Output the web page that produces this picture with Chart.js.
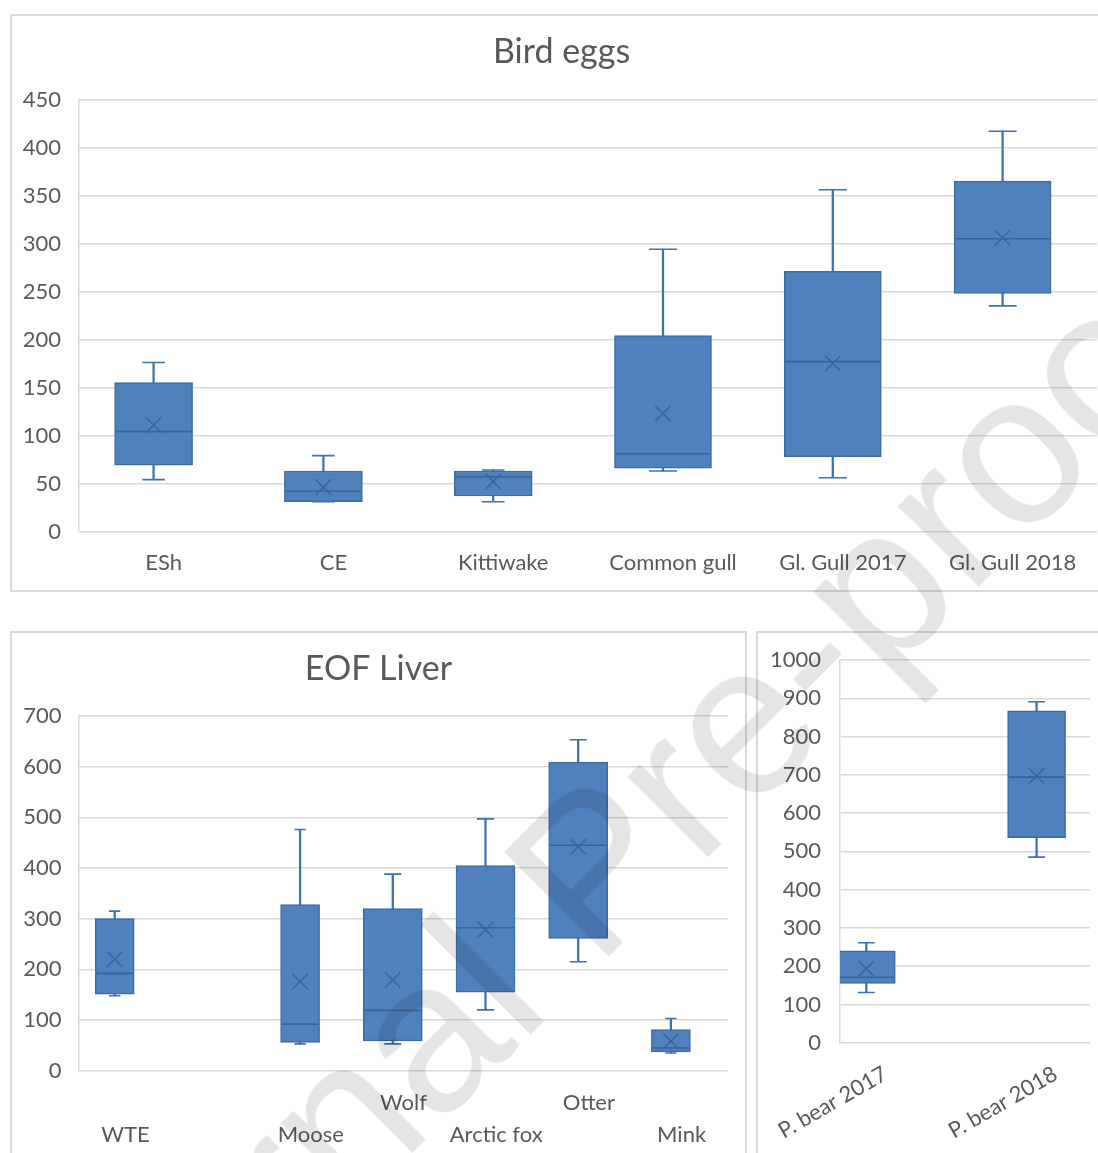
<!DOCTYPE html>
<html>
<head>
<meta charset="utf-8">
<script src="https://cdn.jsdelivr.net/npm/chart.js@4.4.1/dist/chart.umd.min.js"></script>
<style>
  html, body { margin: 0; padding: 0; background: #fff; width: 1098px; height: 1153px; overflow: hidden; }
  .frame { position: absolute; border: 2px solid #d9d9d9; box-sizing: border-box; }
  canvas { position: absolute; }
  #wm { position: absolute; left: 590px; top: 870px; transform: translate(-50%, -50%) rotate(-45deg);
        font-family: "Liberation Sans", Arial, sans-serif; font-weight: normal; font-size: 215px; line-height: 1;
        color: rgba(0,0,0,0.1); white-space: nowrap; pointer-events: none; z-index: 10; }
</style>
</head>
<body>
<div class="frame" style="left:10px;top:14px;width:1120px;height:578px"></div>
<div class="frame" style="left:10px;top:631px;width:737px;height:600px"></div>
<div class="frame" style="left:756px;top:631px;width:400px;height:600px"></div>
<canvas id="c1" width="1101" height="576" style="left:11px;top:15px"></canvas>
<canvas id="c2" width="735" height="521" style="left:11px;top:632px"></canvas>
<canvas id="c3" width="355" height="521" style="left:757px;top:632px"></canvas>
<div id="wm">Journal Pre-proof</div>
<script>
// ---------- Data: Bird eggs ----------
const birdCategories = ['ESh', 'CE', 'Kittiwake', 'Common gull', 'Gl. Gull 2017', 'Gl. Gull 2018'];
const birdMin    = [54, 31, 31, 63, 56, 235];
const birdQ1     = [69, 31, 37, 66, 78, 248];
const birdMedian = [104, 42, 57, 81, 177, 305];
const birdMean   = [111, 46, 52, 123, 175, 306];
const birdQ3     = [155, 63, 63, 204, 271, 365];
const birdMax    = [176, 79, 64, 294, 356, 417];

// ---------- Data: EOF Liver ----------
const liverCategories = ['WTE', '', 'Moose', 'Wolf', 'Arctic fox', 'Otter', 'Mink'];
const liverMin    = [148, null, 53, 53, 120, 215, 35];
const liverQ1     = [151, null, 56, 59, 155, 261, 37];
const liverMedian = [192, null, 92, 119, 282, 445, 45];
const liverMean   = [220, null, 176, 179, 278, 442, 58];
const liverQ3     = [300, null, 328, 320, 405, 609, 81];
const liverMax    = [315, null, 476, 388, 497, 653, 103];

// ---------- Data: Polar bear ----------
const bearCategories = ['P. bear 2017', 'P. bear 2018'];
const bearMin    = [131, 485];
const bearQ1     = [155, 536];
const bearMedian = [171, 694];
const bearMean   = [193, 697];
const bearQ3     = [240, 867];
const bearMax    = [261, 891];

// ---------- Styles ----------
const birdBoxWidth  = [78, 78, 78, 97, 97, 97];
const liverBoxWidth = [39, 0, 39, 59, 59, 59, 39];
const bearBoxWidth  = [58, 58];

const FILL = '#4f81bd';
const EDGE = '#3d6ba6';
const WHISK = '#3f70b0';
const MID = '#3a6497';
const TXT = '#595959';
const GRID = '#d9d9d9';
const FONT = 'Lato';

function buildChart(id, o) {
  const idxs = o.cats.map((_, i) => i).filter(i => o.q1[i] !== null && o.q1[i] !== undefined);
  const widths = [...new Set(idxs.map(i => o.boxW[i]))];
  const datasets = [];
  widths.forEach(w => {
    datasets.push({
      type: 'bar', label: 'box',
      data: idxs.filter(i => o.boxW[i] === w).map(i => ({ x: i, y: [o.q1[i], o.q3[i]] })),
      barThickness: w, maxBarThickness: w, grouped: false,
      backgroundColor: FILL, borderColor: EDGE, borderWidth: 1.5, borderSkipped: false, order: 3
    });
  });
  datasets.push({
    type: 'bar', label: 'whisker',
    data: idxs.map(i => ({ x: i, y: [o.min[i], o.max[i]] })),
    barThickness: 1.6, maxBarThickness: 1.6, grouped: false,
    backgroundColor: WHISK, borderWidth: 0, order: 4
  });
  datasets.push({
    type: 'line', label: 'caps', showLine: false,
    data: idxs.flatMap(i => [{ x: i, y: o.min[i] }, { x: i, y: o.max[i] }]),
    pointStyle: 'line', pointRadius: c => o.boxW[c.raw.x] * 0.145, pointHoverRadius: 0,
    borderColor: WHISK, pointBorderColor: WHISK, pointBorderWidth: 1.6, order: 2
  });
  datasets.push({
    type: 'line', label: 'median', showLine: false,
    data: idxs.map(i => ({ x: i, y: o.median[i] })),
    pointStyle: 'line', pointRadius: c => o.boxW[c.raw.x] / 2 - 1, pointHoverRadius: 0,
    borderColor: MID, pointBorderColor: MID, pointBorderWidth: 1.6, order: 1
  });
  datasets.push({
    type: 'line', label: 'mean', showLine: false,
    data: idxs.map(i => ({ x: i, y: o.mean[i] })),
    pointStyle: 'crossRot', pointRadius: 11, pointHoverRadius: 0,
    borderColor: MID, pointBorderColor: MID, pointBorderWidth: 1.4, order: 0
  });

  return new Chart(document.getElementById(id), {
    type: 'bar',
    data: { datasets },
    options: {
      responsive: false, animation: false, events: [],
      layout: { autoPadding: false, padding: { top: o.padTop || 0, left: 0, right: 0, bottom: 0 } },
      plugins: {
        legend: { display: false }, tooltip: { enabled: false },
        title: o.title ? {
          display: true, text: o.title, color: TXT,
          font: { family: FONT, size: 34, weight: 'normal' },
          padding: { top: o.titleTop, bottom: o.titleBottom }
        } : { display: false }
      },
      scales: {
        x: {
          type: 'linear', min: o.xMin, max: o.xMax, offset: false,
          grid: { display: false, drawTicks: false, offset: false },
          border: { display: false },
          afterBuildTicks: axis => { axis.ticks = o.cats.map((c, i) => ({ value: i })); },
          afterFit: s => { s.height = o.xHeight; s.paddingLeft = 0; s.paddingRight = 0; },
          ticks: {
            autoSkip: false, minRotation: o.rot, maxRotation: o.rot,
            padding: o.xPad, labelOffset: o.labelOffset, color: TXT,
            font: { family: FONT, size: 22, lineHeight: o.lh || 1.2 },
            callback: v => o.tickLabel(v)
          }
        },
        y: {
          min: 0, max: o.yMax,
          grid: { color: GRID, lineWidth: 1.5, drawTicks: false },
          border: { display: true, color: GRID, width: 1.5 },
          afterFit: s => { s.width = o.yWidth; s.paddingTop = 0; s.paddingBottom = 0; },
          ticks: { stepSize: o.yStep, padding: o.yPad, color: TXT, font: { family: FONT, size: 22 }, callback: v => String(v) }
        },
        yR: {
          position: 'right', display: true,
          grid: { display: false, drawTicks: false }, border: { display: false },
          ticks: { display: false },
          afterFit: s => { s.width = o.rightW; }
        }
      }
    }
  });
}

buildChart('c1', {
  cats: birdCategories, min: birdMin, q1: birdQ1, median: birdMedian, mean: birdMean, q3: birdQ3, max: birdMax,
  boxW: birdBoxWidth, title: 'Bird eggs', titleTop: 16.6, titleBottom: 27.1,
  xMin: -0.4393, xMax: 5.556, xHeight: 59.5, xPad: 18.6, labelOffset: 10, rot: 0,
  tickLabel: v => birdCategories[v],
  yMax: 450, yStep: 50, yWidth: 68, yPad: 18, rightW: 15
});

buildChart('c2', {
  cats: liverCategories, min: liverMin, q1: liverQ1, median: liverMedian, mean: liverMean, q3: liverQ3, max: liverMax,
  boxW: liverBoxWidth, title: 'EOF Liver', titleTop: 16.6, titleBottom: 26.6,
  xMin: -0.385, xMax: 6.616, xHeight: 82.3, xPad: 16.3, labelOffset: 10.7, rot: 0, lh: 1.45,
  tickLabel: v => (v % 2 === 0 ? ['', liverCategories[v]] : [liverCategories[v]]),
  yMax: 700, yStep: 100, yWidth: 68, yPad: 17.5, rightW: 18
});

buildChart('c3', {
  cats: bearCategories, min: bearMin, q1: bearQ1, median: bearMedian, mean: bearMean, q3: bearQ3, max: bearMax,
  boxW: bearBoxWidth, padTop: 28,
  xMin: -0.1544, xMax: 1.3136, xHeight: 110.3, xPad: 18, labelOffset: 19, rot: 30,
  tickLabel: v => bearCategories[v],
  yMax: 1000, yStep: 100, yWidth: 83, yPad: 19, rightW: 22
});
</script>
</body>
</html>
